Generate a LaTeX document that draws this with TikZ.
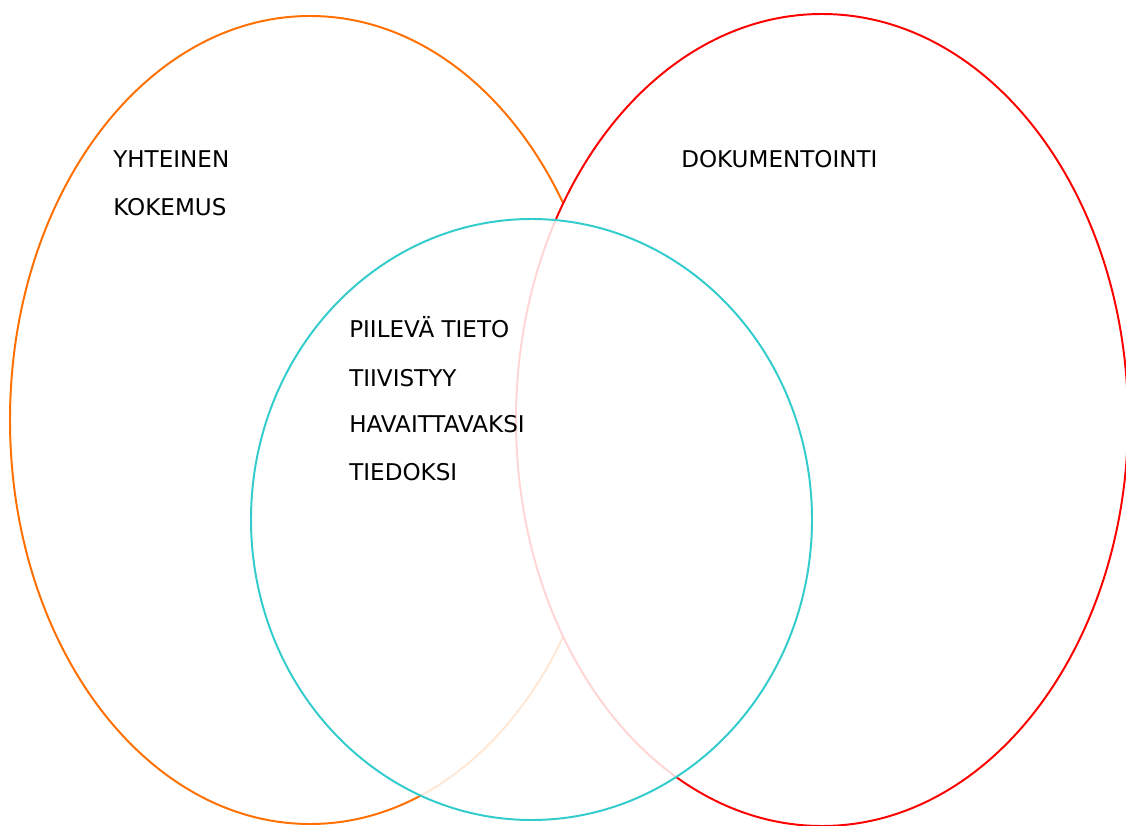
\documentclass[tikz,border=0pt]{standalone}
\usepackage{fontspec}
\setmainfont{DejaVu Sans}
\definecolor{kokOrange}{RGB}{255,112,0}
\definecolor{dokRed}{RGB}{255,0,0}
\definecolor{tietoCyan}{RGB}{51,204,204}
\tikzset{
  rengas/.style={line width=1.4pt},
  teksti/.style={inner sep=0pt, anchor=base west, font=\fontsize{16.4}{19}\selectfont}
}
\begin{document}
\begin{tikzpicture}[x=0.025cm, y=0.025cm]
    \useasboundingbox (0,0) rectangle (1126,825);
    \clip (0,0) rectangle (1126,825);
    \fill[white] (0,0) rectangle (1126,825);
    % keskipisteet:
    \coordinate (kokemus) at (310,405);
    \coordinate (dokumentointi) at (822,405);
    \coordinate (tieto) at (531.5,305.5);
    % ellipsit:
    \draw[rengas, kokOrange, fill=white] (kokemus) ellipse [x radius=300, y radius=404]; % vasen
    \draw[rengas, dokRed, fill=white] (dokumentointi) ellipse [x radius=306, y radius=406]; % oikea
    \fill[white, fill opacity=0.84] (tieto) ellipse [x radius=280.5, y radius=300.5]; % haalentaa
    \draw[rengas, tietoCyan] (tieto) ellipse [x radius=280.5, y radius=300.5]; % keskimmainen
    % tekstit:
    \node[teksti] (yhteinen) at (113,657) {YHTEINEN};
    \node[teksti] (kokemusteksti) at (113,609) {KOKEMUS};
    \node[teksti] (dok) at (681,657) {DOKUMENTOINTI};
    \node[teksti] (piileva) at (349,487) {PIILEVÄ TIETO};
    \node[teksti] (tiivistyy) at (349,439) {TIIVISTYY};
    \node[teksti] (havaittavaksi) at (349,393) {HAVAITTAVAKSI};
    \node[teksti] (tiedoksi) at (349,345) {TIEDOKSI};
\end{tikzpicture}
\end{document}
